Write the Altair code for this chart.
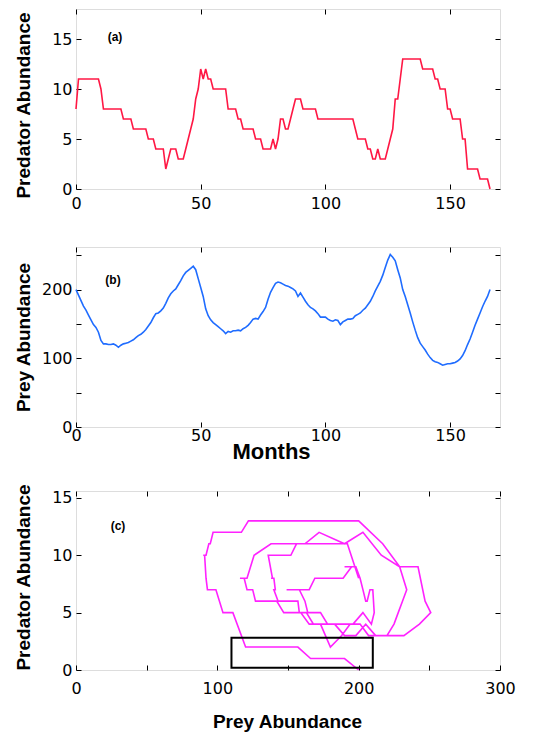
import altair as alt
import pandas as pd

# ---- data ----
months = list(range(167))

predator = [
    8, 11, 11, 11, 11, 11, 11, 11, 11, 11,
    10, 8, 8, 8, 8, 8, 8, 8, 8, 7,
    7, 7, 7, 6, 6, 6, 6, 6, 6, 5,
    5, 5, 4, 4, 4, 4, 2, 3, 4, 4,
    4, 3, 3, 3, 4, 5, 6, 7, 9, 10,
    12, 11, 12, 11, 11, 10, 10, 10, 10, 10,
    10, 8, 8, 8, 8, 7, 7, 6, 6, 6,
    6, 6, 5, 5, 5, 4, 4, 4, 4, 5,
    4, 5, 7, 7, 6, 6, 7, 8, 9, 9,
    9, 8, 8, 8, 8, 8, 8, 7, 7, 7,
    7, 7, 7, 7, 7, 7, 7, 7, 7, 7,
    7, 7, 6, 5, 5, 5, 5, 4, 4, 3,
    3, 4, 3, 3, 3, 4, 5, 6, 9, 9,
    11, 13, 13, 13, 13, 13, 13, 13, 13, 12,
    12, 12, 12, 12, 11, 11, 10, 10, 10, 8,
    8, 7, 7, 7, 7, 5, 5, 2, 2, 2,
    2, 2, 1, 1, 1, 1, 0,
]

prey = [
    200, 192, 184, 176, 170, 163, 156, 149, 145, 138,
    126, 121, 121, 120, 120, 121, 119, 116, 119, 121,
    122, 123, 125, 127, 130, 133, 135, 138, 142, 147,
    152, 159, 165, 166, 169, 173, 180, 188, 194, 198,
    201, 207, 213, 220, 225, 228, 231, 234, 229, 216,
    203, 190, 172, 162, 156, 152, 149, 146, 143, 140,
    136, 139, 138, 140, 140, 141, 140, 143, 145, 148,
    152, 157, 158, 157, 163, 168, 174, 186, 196, 203,
    209, 211, 210, 208, 206, 205, 203, 201, 198, 190,
    195, 189, 183, 178, 174, 172, 169, 165, 160, 160,
    160, 157, 155, 154, 156, 155, 149, 153, 155, 157,
    157, 158, 162, 164, 166, 170, 173, 178, 183, 190,
    198, 205, 212, 221, 232, 243, 251, 247, 242, 229,
    217, 200, 190, 178, 166, 153, 141, 130, 122, 117,
    112, 106, 101, 97, 95, 94, 92, 90, 91, 92,
    92, 93, 94, 96, 99, 104, 111, 120, 128, 138,
    148, 157, 166, 175, 183, 190, 200,
]

panel_labels = ["(a)", "(b)", "(c)"]
box_prey = [110, 210]
box_pred = [0.2, 2.8]

month_ticks = [0, 50, 100, 150]
pred_ticks = [0, 5, 10, 15]
prey_ticks_b = [0, 50, 100, 150, 200, 250]
prey_ticks_c = [0, 50, 100, 150, 200, 250, 300]

df = pd.DataFrame({"month": months, "pred": predator, "prey": prey})
box_df = pd.DataFrame({"x1": [box_prey[0]], "x2": [box_prey[1]],
                       "y1": [box_pred[0]], "y2": [box_pred[1]]})

LABEL_FONT = "DejaVu Sans"
TITLE_FONT = "Liberation Sans"
W = 424


def axis(orient, values, labels=True, label_expr=None, label_padding=4, **kw):
    d = dict(orient=orient, values=values, offset=-5, domain=False, grid=False,
             ticks=True, tickSize=5, tickColor="black", tickWidth=1,
             labels=labels, labelFont=LABEL_FONT, labelFontSize=16,
             labelColor="black", labelPadding=label_padding,
             labelFlush=False, labelOverlap=False)
    if label_expr is not None:
        d["labelExpr"] = label_expr
    if "title" in kw:
        d.update(titleFont=TITLE_FONT, titleFontSize=19, titleFontWeight="bold",
                 titleColor="black")
    else:
        d["title"] = None
    d.update(kw)
    return alt.Axis(**d)


def ytitle(text, center):
    return dict(title=text, titleAngle=270, titleBaseline="alphabetic",
                titleAlign="center", titleX=-51.5, titleY=center)


def label_layer(text, x, y):
    return alt.Chart(pd.DataFrame({"t": [text]})).mark_text(
        font=TITLE_FONT, fontWeight="bold", fontSize=12, color="black"
    ).encode(text="t:N", x=alt.value(x), y=alt.value(y))


# ---- panel (a) ----
xs_a = alt.Scale(domain=[0, 170], nice=False, zero=False)
ys_a = alt.Scale(domain=[0, 18], nice=False)
Ha = 180
a_line = alt.Chart(df).mark_line(color="#ff1744", strokeWidth=1.6).encode(
    x=alt.X("month:Q", scale=xs_a,
            axis=axis("bottom", month_ticks, label_padding=6)),
    y=alt.Y("pred:Q", scale=ys_a,
            axis=axis("left", pred_ticks, **ytitle("Predator Abundance", 96))),
    order="month:Q",
)
a_ghost = alt.Chart(df).mark_line(opacity=0).encode(
    x=alt.X("month:Q", scale=xs_a, axis=axis("top", month_ticks, labels=False)),
    y=alt.Y("pred:Q", scale=ys_a, axis=axis("right", pred_ticks, labels=False)),
)
panel_a = alt.layer(a_line, a_ghost, label_layer(panel_labels[0], 39, 28)).resolve_axis(
    x="independent", y="independent").properties(width=W, height=Ha)

# ---- panel (b) ----
ys_b = alt.Scale(domain=[0, 262], nice=False)
Hb = 180
lab100 = "datum.value % 100 === 0 ? datum.label : ''"
b_line = alt.Chart(df).mark_line(color="#1f6cff", strokeWidth=1.6).encode(
    x=alt.X("month:Q", scale=xs_a,
            axis=axis("bottom", month_ticks, label_padding=0.5,
                      title="Months", titleFontSize=22, titleBaseline="alphabetic",
                      titleX=195, titleY=36.6, titleAlign="center")),
    y=alt.Y("prey:Q", scale=ys_b,
            axis=axis("left", prey_ticks_b, label_expr=lab100,
                      **ytitle("Prey Abundance", 90))),
    order="month:Q",
)
b_ghost = alt.Chart(df).mark_line(opacity=0).encode(
    x=alt.X("month:Q", scale=xs_a, axis=axis("top", month_ticks, labels=False)),
    y=alt.Y("prey:Q", scale=ys_b, axis=axis("right", prey_ticks_b, labels=False)),
)
panel_b = alt.layer(b_line, b_ghost, label_layer(panel_labels[1], 37, 33)).resolve_axis(
    x="independent", y="independent").properties(width=W, height=Hb)

# ---- panel (c) ----
xs_c = alt.Scale(domain=[0, 300], nice=False)
ys_c = alt.Scale(domain=[0, 15.6], nice=False)
Hc = 179
c_line = alt.Chart(df).mark_line(color="#ff22ff", strokeWidth=1.6).encode(
    x=alt.X("prey:Q", scale=xs_c,
            axis=axis("bottom", prey_ticks_c, label_expr=lab100, label_padding=10,
                      title="Prey Abundance", titleBaseline="alphabetic",
                      titleX=211, titleY=62.3, titleAlign="center")),
    y=alt.Y("pred:Q", scale=ys_c,
            axis=axis("left", pred_ticks, **ytitle("Predator Abundance", 86))),
    order="month:Q",
)
c_ghost = alt.Chart(df).mark_line(opacity=0).encode(
    x=alt.X("prey:Q", scale=xs_c, axis=axis("top", prey_ticks_c, labels=False)),
    y=alt.Y("pred:Q", scale=ys_c, axis=axis("right", pred_ticks, labels=False)),
    order="month:Q",
)
c_box = alt.Chart(box_df).mark_rect(fill=None, stroke="black", strokeWidth=2).encode(
    x=alt.X("x1:Q", scale=xs_c, axis=None), x2="x2:Q",
    y=alt.Y("y1:Q", scale=ys_c, axis=None), y2="y2:Q",
)
panel_c = alt.layer(c_line, c_ghost, c_box, label_layer(panel_labels[2], 42, 35)).resolve_axis(
    x="independent", y="independent").properties(width=W, height=Hc)

top = alt.vconcat(panel_a, panel_b, spacing=34)
chart = alt.vconcat(top, panel_c, spacing=19).properties(
    padding={"left": 5, "top": 0, "right": 5, "bottom": 0}
).configure_view(stroke="black", strokeWidth=1).configure(background="white")

chart.save("out.html", embed_options={"renderer": "svg", "actions": False})
